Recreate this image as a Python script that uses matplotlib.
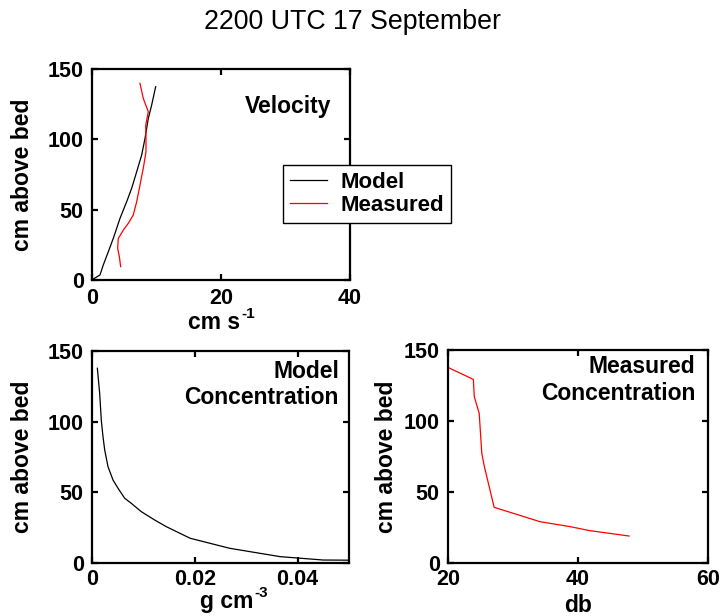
import matplotlib
matplotlib.use("Agg")
import matplotlib.pyplot as plt
from matplotlib.lines import Line2D

plt.rcParams['font.family'] = ['Liberation Sans', 'DejaVu Sans']

title = "2200 UTC 17 September"

# Velocity panel
vel_model_x = [0.2, 1.24, 1.75, 2.53, 3.3, 4.34, 5.38, 6.15, 6.93, 7.7, 8.22, 8.73, 9.25, 9.87]
vel_model_y = [0.7, 3.6, 10.7, 20.1, 29.6, 43.8, 55.7, 65.2, 77, 88.8, 100.7, 114.9, 124.4, 137.4]
vel_meas_x = [4.44, 4.24, 3.98, 4.08, 4.86, 5.63, 6.4, 6.93, 7.44, 7.95, 8.37, 8.37, 8.33, 8.73, 7.95, 7.44]
vel_meas_y = [9.5, 16.6, 22.5, 29.6, 35.5, 40.3, 46.2, 55.7, 67.5, 79.4, 91.2, 100.7, 110.2, 119.6, 129.1, 139.8]

# Model concentration panel
mc_x = [0.00104, 0.00149, 0.00181, 0.00214, 0.00247, 0.00311, 0.00409, 0.00506, 0.00636,
        0.00765, 0.0096, 0.0122, 0.01446, 0.0191, 0.0268, 0.0366, 0.045, 0.05]
mc_y = [137.8, 120.1, 101, 89.4, 80, 68.2, 58.7, 52.9, 45.8,
        42.2, 36.3, 30.4, 25.7, 17.5, 10.4, 4.5, 2.1, 2.0]

# Measured concentration panel
ms_x = [20.05, 23.9, 24.05, 24.8, 25.2, 25.6, 27.1, 30.05, 34.15, 38.8, 41.8, 47.85]
ms_y = [137.6, 129.3, 117, 105.4, 77.2, 67.8, 39.2, 35, 29.1, 25.6, 22.8, 19]

W, H = 721, 616
fig = plt.figure(figsize=(W / 100, H / 100), dpi=100)

def px_axes(l, t, r, b):
    return fig.add_axes([l / W, 1 - b / H, (r - l) / W, (b - t) / H])

ax1 = px_axes(92, 69, 350, 280)
ax2 = px_axes(92, 351, 349, 563)
ax3 = px_axes(448, 350, 708, 563)

tick_fs = 15.5
lab_fs = 16.5
sup_fs = 11
for ax in (ax1, ax2, ax3):
    for s in ax.spines.values():
        s.set_linewidth(1.6)
    ax.tick_params(direction='in', length=4, width=1.6, top=True, right=True,
                   labelsize=tick_fs, pad=6)
    ax.set_ylim(0, 150)
    ax.set_yticks([0, 50, 100, 150])
    ax.set_ylabel("cm above bed", fontsize=lab_fs, fontweight='bold',
                  labelpad=(4 if ax is ax3 else 10))
for ax in (ax2, ax3):
    ax.tick_params(axis='x', pad=4.5)


def unit_label(ax, x_join, y_base, y_sup, main, sup):
    ax.text(x_join, y_base, main, transform=ax.transAxes, ha='right', va='baseline',
            fontsize=lab_fs, fontweight='bold')
    ax.text(x_join + 0.004, y_sup, sup, transform=ax.transAxes, ha='left', va='baseline',
            fontsize=sup_fs, fontweight='bold')


ax1.plot(vel_model_x, vel_model_y, color='black', lw=0.9)
ax1.plot(vel_meas_x, vel_meas_y, color='red', lw=0.9)
ax1.set_xlim(0, 40)
ax1.set_xticks([0, 20, 40])
unit_label(ax1, 0.574, -0.23, -0.18, "cm s", "-1")
ax1.text(0.926, 0.82, "Velocity", transform=ax1.transAxes, ha='right', va='center',
         fontsize=lab_fs, fontweight='bold')

ax2.plot(mc_x, mc_y, color='black', lw=0.9)
ax2.set_xlim(0, 0.05)
ax2.set_xticks([0, 0.02, 0.04])
ax2.set_xticklabels(["0", "0.02", "0.04"])
unit_label(ax2, 0.626, -0.212, -0.16, "g cm", "-3")
ax2.text(0.961, 0.842, "Model\nConcentration", transform=ax2.transAxes, ha='right',
         va='center', multialignment='right', fontsize=lab_fs, fontweight='bold',
         linespacing=1.2)

ax3.plot(ms_x, ms_y, color='red', lw=0.9)
ax3.set_xlim(20, 60)
ax3.set_xticks([20, 40, 60])
ax3.set_xlabel("db", fontsize=lab_fs, fontweight='bold', labelpad=2.5)
ax3.text(0.95, 0.859, "Measured\nConcentration", transform=ax3.transAxes, ha='right',
         va='center', multialignment='right', fontsize=lab_fs, fontweight='bold',
         linespacing=1.2)

for ax in (ax1, ax2, ax3):
    for lab in ax.get_xticklabels() + ax.get_yticklabels():
        lab.set_fontweight('bold')

handles = [Line2D([], [], color='black', lw=0.9), Line2D([], [], color='red', lw=0.9)]
leg = fig.legend(handles, ["Model", "Measured"], loc='upper left',
                 bbox_to_anchor=(283 / W, 1 - 165 / H), borderaxespad=0,
                 fancybox=False, edgecolor='black', framealpha=1,
                 prop={'size': lab_fs - 0.5, 'weight': 'bold'}, handlelength=1.7,
                 handletextpad=0.6, labelspacing=0.1, borderpad=0.3)
leg.get_frame().set_linewidth(1.0)

fig.text(352 / W, 1 - 22 / H, title, ha='center', va='center', fontsize=19.3)

fig.savefig("out.png", dpi=100)
